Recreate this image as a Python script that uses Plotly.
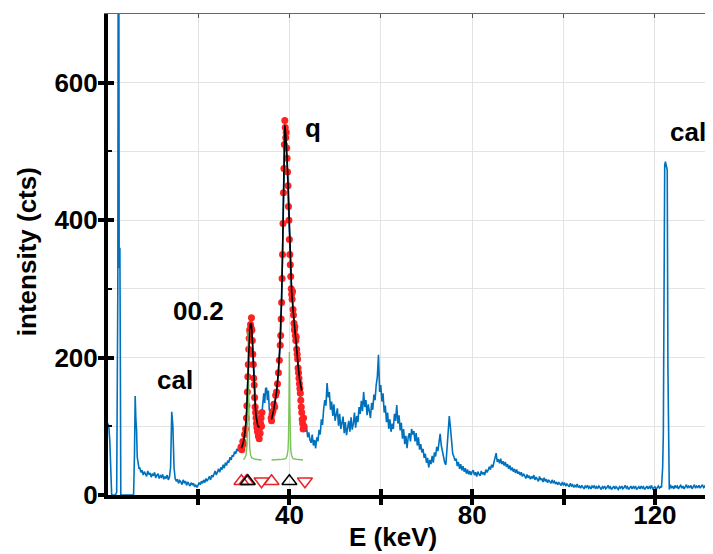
import plotly.graph_objects as go

# ---------------- spectrum ----------------
# low-energy part (irregular channel positions)
seg_low_e = [0.3, 0.5, 0.7, 0.9, 1.1, 1.5, 1.9, 2.2, 2.45, 2.55, 2.65, 2.75, 2.9, 3.0, 3.1,
             3.5, 4.0, 4.5, 5.0, 5.5, 5.9, 6.1, 6.25, 6.4, 6.55, 6.7, 6.9, 7.1]
seg_low_c = [104, 98, 78, 40, 0, 0, 0, 4, 300, 900, 900, 330, 360, 200, 0,
             0, 0, 0, 0, 0, 0, 60, 144, 110, 95, 55, 45, 38]

# 7.25 ... 29.25 keV, 0.25 keV channels
base_start, base_step = 7.25, 0.25
seg_base_c = [40, 33, 36, 29, 34, 31, 27, 35, 30, 32, 26, 31,
              28, 33, 25, 29, 31, 24, 28, 26, 30, 23, 27, 24,
              29, 22, 26, 40, 121, 100, 40, 24, 20, 23, 17, 21,
              19, 15, 22, 18, 20, 14, 19, 16, 13, 18, 15, 17,
              12, 15, 11, 14, 18, 15, 20, 17, 22, 18, 24, 20,
              23, 27, 22, 29, 26, 31, 35, 29, 34, 38, 33, 40,
              37, 44, 39, 47, 43, 50, 47, 55, 51, 58, 56, 63,
              60, 67, 64, 72, 70]

# fitted region 29.4 ... 43.2 keV
seg_fit_e = [29.4, 29.6, 29.8, 30.0, 30.2, 30.4, 30.6, 30.7, 30.8, 30.9, 31.0, 31.1, 31.2,
             31.3, 31.4, 31.5, 31.6, 31.7, 31.8, 31.9, 32.0, 32.1, 32.2, 32.3, 32.4, 32.5,
             32.6, 32.7, 32.8, 32.9, 33.0, 33.1, 33.2, 33.3, 33.4, 33.5, 33.6, 33.7, 33.8,
             33.9, 34.0, 34.2, 34.4, 34.6, 34.8, 35.0, 35.2, 35.4, 35.6, 35.8, 36.0, 36.1,
             36.2, 36.4, 36.6, 36.8, 37.0, 37.2, 37.4, 37.6, 37.8, 38.0, 38.1, 38.2, 38.3,
             38.4, 38.5, 38.6, 38.7, 38.8, 38.9, 39.0, 39.1, 39.2, 39.3, 39.4, 39.5, 39.6,
             39.7, 39.8, 39.9, 40.0, 40.1, 40.2, 40.3, 40.4, 40.5, 40.6, 40.7, 40.8, 40.9,
             41.0, 41.1, 41.2, 41.3, 41.4, 41.5, 41.6, 41.7, 41.8, 41.9, 42.0, 42.1, 42.2,
             42.3, 42.4, 42.5, 42.6, 42.7, 42.8, 42.9, 43.0, 43.1, 43.2]
seg_fit_c = [70, 66, 78, 74, 88, 96, 112, 130, 150, 172, 190, 212, 228,
             240, 236, 248, 244, 258, 240, 225, 205, 190, 170, 160, 142, 128,
             120, 112, 104, 98, 92, 100, 86, 95, 82, 98, 90, 104, 112,
             100, 120, 132, 148, 134, 155, 156, 138, 152, 124, 120, 112, 108,
             118, 122, 132, 128, 145, 150, 162, 178, 196, 218, 232, 256, 280,
             315, 350, 395, 440, 475, 510, 545, 535, 520, 528, 505, 490, 470,
             450, 420, 400, 372, 350, 335, 318, 300, 292, 285, 296, 270, 262,
             250, 240, 245, 232, 225, 230, 212, 205, 198, 185, 178, 170, 162,
             155, 148, 138, 128, 120, 110, 104, 96, 112, 100]

# 43.5 ... 80.0 keV, 0.25 keV channels
mid_start, mid_step = 43.5, 0.25
seg_mid_c = [92, 100, 84, 91, 80, 76, 88, 72, 80, 68, 84, 78,
             95, 88, 110, 102, 125, 138, 130, 163, 142, 150, 124, 136,
             115, 132, 108, 121, 126, 101, 118, 96, 109, 114, 90, 106,
             87, 100, 108, 92, 113, 95, 104, 120, 98, 115, 106, 128,
             118, 137, 122, 150, 128, 138, 116, 132, 121, 112, 134, 124,
             146, 138, 160, 172, 204, 150, 160, 136, 148, 120, 130, 106,
             120, 96, 110, 92, 104, 96, 118, 108, 131, 104, 116, 94,
             105, 82, 96, 74, 86, 68, 84, 90, 78, 96, 88, 93,
             78, 90, 72, 84, 66, 74, 62, 67, 54, 60, 47, 54,
             40, 51, 45, 57, 47, 62, 56, 70, 64, 82, 89, 72,
             64, 52, 47, 44, 64, 84, 115, 98, 72, 60, 56, 50,
             53, 42, 48, 38, 45, 36, 42, 34, 39, 31, 37, 30,
             35, 29, 34]

# 80.25 ... 121.25 keV, 0.25 keV channels
tail_start, tail_step = 80.25, 0.25
seg_tail_c = [36, 29, 33, 27, 34, 30, 28, 35, 30, 33, 29, 37,
              33, 36, 41, 37, 44, 40, 47, 50, 61, 48, 52, 46,
              53, 45, 49, 43, 48, 41, 45, 38, 43, 36, 40, 34,
              38, 32, 37, 31, 34, 29, 33, 27, 31, 28, 24, 30,
              25, 28, 23, 27, 24, 29, 22, 26, 23, 20, 27, 22,
              24, 19, 25, 20, 23, 18, 22, 19, 17, 22, 18, 20,
              16, 19, 15, 18, 16, 14, 19, 15, 17, 13, 16, 14,
              12, 17, 13, 15, 11, 14, 12, 16, 11, 13, 10, 14,
              12, 9, 13, 11, 14, 10, 12, 9, 13, 11, 14, 9,
              12, 10, 13, 11, 8, 12, 10, 13, 9, 11, 14, 10,
              12, 8, 11, 13, 9, 12, 10, 8, 12, 10, 13, 9,
              11, 14, 10, 12, 8, 11, 13, 9, 12, 10, 13, 8,
              11, 12, 9, 13, 10, 12, 8, 11, 13, 9, 12, 10,
              14, 9, 11, 12, 8, 11, 13, 10, 12]

# 122 keV calibration line
seg_cal_e = [121.45, 121.7, 121.85, 122.0, 122.15, 122.3, 122.5, 122.7, 122.85, 123.0, 123.15]
seg_cal_c = [11, 40, 90, 354, 480, 485, 476, 473, 187, 60, 8]

# 123.4 ... 132.4 keV, 0.25 keV channels
end_start, end_step = 123.4, 0.25
seg_end_c = [15, 10, 13, 9, 14, 11, 13, 9, 12, 14, 10, 13,
             9, 12, 15, 10, 13, 11, 14, 9, 12, 15, 10, 13,
             11, 14, 10, 12, 15, 11, 13, 10, 14, 12, 15, 11,
             13]

seg_base_e = [base_start + base_step * i for i in range(len(seg_base_c))]
seg_mid_e = [mid_start + mid_step * i for i in range(len(seg_mid_c))]
seg_tail_e = [tail_start + tail_step * i for i in range(len(seg_tail_c))]
seg_end_e = [end_start + end_step * i for i in range(len(seg_end_c))]

energy_kev = seg_low_e + seg_base_e + seg_fit_e + seg_mid_e + seg_tail_e + seg_cal_e + seg_end_e
counts = seg_low_c + seg_base_c + seg_fit_c + seg_mid_c + seg_tail_c + seg_cal_c + seg_end_c

# data points used in the fit (red dots)
fit_windows = [(29.4, 34.0), (36.0, 43.2)]
red_e = [e for e in energy_kev if any(a <= e <= b for a, b in fit_windows)]
red_c = [c for e, c in zip(energy_kev, counts) if any(a <= e <= b for a, b in fit_windows)]

# fitted envelope (black)
fit1_e = [29.5, 29.9, 30.2, 30.5, 30.7, 30.9, 31.1, 31.3, 31.5, 31.7, 31.9, 32.1, 32.3, 32.5,
          32.7, 32.9, 33.1, 33.5]
fit1_c = [68, 76, 88, 105, 130, 168, 210, 240, 250, 248, 225, 190, 158, 132,
          115, 105, 100, 99]
fit2_e = [36.1, 36.6, 37.2, 37.6, 37.9, 38.1, 38.3, 38.5, 38.6, 38.7, 38.85, 39.0, 39.15,
          39.3, 39.5, 39.7, 39.9, 40.1, 40.3, 40.5, 40.8, 41.1, 41.4, 41.7, 41.9, 42.2,
          42.5, 42.7]
fit2_c = [110, 125, 150, 180, 215, 245, 285, 350, 400, 458, 510, 538, 530,
          515, 490, 455, 410, 375, 330, 295, 270, 245, 225, 205, 190, 170,
          158, 152]

# fit components (green)
comp1_e = [29.9, 30.2, 30.5, 30.7, 30.8, 30.9, 30.95, 31.0, 31.05, 31.1, 31.2, 31.3, 31.5,
           31.8, 32.5, 33.9]
comp1_c = [52, 53, 58, 70, 88, 144, 201, 238, 201, 144, 88, 70, 58, 54, 52, 51]
comp2_e = [36.1, 37.0, 38.5, 39.2, 39.5, 39.7, 39.8, 39.9, 39.95, 40.0, 40.05, 40.1, 40.2,
           40.3, 40.5, 40.8, 41.5, 43.0]
comp2_c = [51, 51, 52, 53, 57, 66, 81, 129, 177, 208, 177, 129, 81, 66, 57, 53, 52, 51]

# peak markers
tri_up_red_e = [29.5, 30.6, 36.1]
tri_up_black_e = [30.9, 40.0]
tri_down_red_e = [33.9, 43.4]
tri_level = 20

x_range = [0.3, 132.5]
y_range = [0, 700]
x_ticks = [20, 40, 60, 80, 100, 120]
x_ticktext = ["", "40", "", "80", "", "120"]
y_major = [0, 200, 400, 600]
y_minor = [100, 300, 500]
y_all = [0, 100, 200, 300, 400, 500, 600, 700]

BLUE = "#0072BD"
GRID = "#e3e3e3"
FONT = dict(family="Liberation Sans, Arial, sans-serif", size=26, color="black", weight="bold")

fig = go.Figure()
fig.add_trace(go.Scatter(x=energy_kev, y=counts, mode="lines",
                         line=dict(color=BLUE, width=1.6)))
fig.add_trace(go.Scatter(x=red_e, y=red_c, mode="markers",
                         marker=dict(color="#ff2222", size=7)))
for ge, gc in ((comp1_e, comp1_c), (comp2_e, comp2_c)):
    fig.add_trace(go.Scatter(x=ge, y=gc, mode="lines",
                             line=dict(color="#7cc45a", width=1.4)))
for fe, fc in ((fit1_e, fit1_c), (fit2_e, fit2_c)):
    fig.add_trace(go.Scatter(x=fe, y=fc, mode="lines",
                             line=dict(color="black", width=1.6)))
fig.add_trace(go.Scatter(x=tri_up_red_e, y=[tri_level] * len(tri_up_red_e), mode="markers",
                         marker=dict(symbol="triangle-up-open", size=13, color="#e8232b",
                                     line=dict(width=1.5))))
fig.add_trace(go.Scatter(x=tri_down_red_e, y=[tri_level] * len(tri_down_red_e), mode="markers",
                         marker=dict(symbol="triangle-down-open", size=13, color="#e8232b",
                                     line=dict(width=1.5))))
fig.add_trace(go.Scatter(x=tri_up_black_e, y=[tri_level] * len(tri_up_black_e), mode="markers",
                         marker=dict(symbol="triangle-up-open", size=13, color="black",
                                     line=dict(width=1.5))))

# the page body adds an 8px margin; size the figure so the plot area lands
# at x 108-712, y 14-495 in the 713x554 window
fig.update_layout(
    width=705, height=546,
    margin=dict(l=100, r=1, t=6, b=59),
    paper_bgcolor="white", plot_bgcolor="white",
    showlegend=False,
    xaxis=dict(range=x_range, tickvals=x_ticks, ticktext=x_ticktext,
               ticks="outside", ticklen=6, tickwidth=4, tickcolor="black",
               showline=True, linewidth=4, linecolor="black",
               showgrid=True, gridcolor=GRID, gridwidth=1, zeroline=False,
               tickfont=FONT, ticklabelstandoff=-12),
    xaxis2=dict(overlaying="x", anchor="y", side="bottom", range=x_range, tickvals=x_ticks,
                ticks="inside", ticklen=6, tickwidth=4, tickcolor="black",
                showticklabels=False, showgrid=False, zeroline=False, showline=False),
    xaxis3=dict(overlaying="x", anchor="y", side="top", range=x_range, tickvals=x_ticks,
                ticks="inside", ticklen=4, tickwidth=1, tickcolor="#555",
                showline=True, linewidth=1, linecolor="#666",
                showticklabels=False, showgrid=False, zeroline=False),
    yaxis=dict(range=y_range, tickvals=y_major,
               ticks="outside", ticklen=6, tickwidth=4, tickcolor="black",
               showline=True, linewidth=4, linecolor="black",
               showgrid=True, gridcolor=GRID, gridwidth=1, zeroline=False,
               tickfont=FONT, ticklabelstandoff=-5,
               minor=dict(tickvals=y_minor, ticks="inside", ticklen=4, tickwidth=2,
                          tickcolor="black", showgrid=True, gridcolor=GRID)),
    yaxis2=dict(overlaying="y", anchor="x", side="left", range=y_range, tickvals=y_major,
                ticks="inside", ticklen=6, tickwidth=4, tickcolor="black",
                showticklabels=False, showgrid=False, zeroline=False, showline=False),
    yaxis3=dict(overlaying="y", anchor="x", side="right", range=y_range, tickvals=y_all,
                ticks="inside", ticklen=4, tickwidth=1, tickcolor="#555",
                showline=True, linewidth=1, linecolor="#666",
                showticklabels=False, showgrid=False, zeroline=False),
)

# empty traces so the overlay axes are rendered
fig.add_trace(go.Scatter(x=[], y=[], xaxis="x2", yaxis="y2", showlegend=False))
fig.add_trace(go.Scatter(x=[], y=[], xaxis="x3", yaxis="y3", showlegend=False))

labels = [("q", 45.1, 534), ("cal", 127.2, 529), ("00.2", 20.0, 268), ("cal", 15.0, 167)]
for txt, lx, ly in labels:
    fig.add_annotation(x=lx, y=ly, text=txt, showarrow=False, font=FONT,
                       xanchor="center", yanchor="middle")

fig.add_annotation(xref="paper", yref="paper", x=0.472, y=-0.087, text="E (keV)",
                   showarrow=False, font=FONT, xanchor="center", yanchor="middle")
fig.add_annotation(xref="paper", yref="paper", x=-0.134, y=0.505, text="intensity (cts)",
                   showarrow=False, font=FONT, textangle=-90,
                   xanchor="center", yanchor="middle")

fig.write_html("out.html")
